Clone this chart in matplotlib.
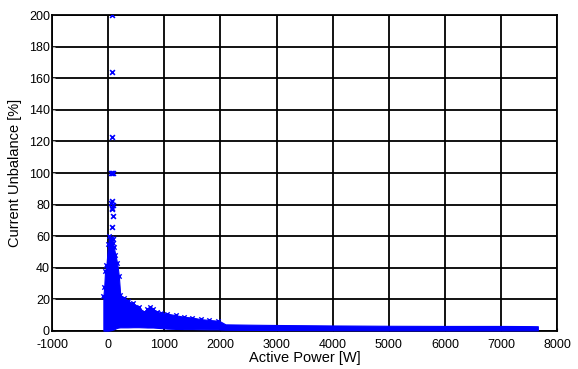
import numpy as np
import matplotlib
matplotlib.use("Agg")
import matplotlib.pyplot as plt

plt.rcParams['font.family'] = ['Liberation Sans', 'DejaVu Sans']
plt.rcParams['axes.unicode_minus'] = False

power = [-85, -70, -55, -30, 0, 20, 50, 80, 100, 130, 160, 190, 215, 275,
         350, 450, 550, 630, 700, 750, 800, 870, 950, 1050, 1200, 1350,
         1500, 1650, 1800, 1950, 2000, 2090, 2500, 3000, 4000, 5000,
         6000, 7000, 7500, 7655]
upper = [22, 28, 38, 42, 55, 60, 58, 56, 53, 48, 43, 35, 23, 21,
         19, 17.5, 15, 12, 14, 15, 14, 12, 11.5, 11, 10, 9,
         8.5, 7.5, 7, 6.5, 6, 4.2, 4, 3.8, 3.5, 3.3,
         3.2, 3.2, 3.1, 3.0]
lower = [0.3, 0.2, 0.2, 0.2, 0.2, 0.3, 0.5, 0.8, 1.0, 1.5, 2.0, 2.2, 2.3, 2.3,
         2.3, 2.4, 2.4, 2.3, 2.2, 2.2, 2.2, 2.0, 1.8, 1.5, 1.3, 1.2,
         1.2, 1.1, 1.0, 1.0, 0.9, 0.8, 0.7, 0.6, 0.5, 0.4,
         0.4, 0.4, 0.4, 0.4]

# isolated points above the cloud
out_p = [65, 62, 60, 55, 75, 90, 55, 70, 85, 60, 75, 80, 65, 50, 80]
out_u = [200, 164, 123, 100, 100, 100, 81, 82, 80, 78, 77, 73, 66, 59, 58]

xticks = list(range(-1000, 8001, 1000))
yticks = list(range(0, 201, 20))

fig = plt.figure(figsize=(5.78, 3.69), dpi=100)
ax = fig.add_axes([0.090, 0.103, 0.874, 0.856])

ax.fill_between(power, lower, upper, color="#0000ff", linewidth=0.8,
                edgecolor="#0000ff", zorder=3)
edge_p = [p for p in power if p < 2000]
edge_u = upper[:len(edge_p)]
ax.scatter(edge_p, edge_u, marker="x", s=10, color="#0000ff", linewidths=1, zorder=3)
ax.scatter(out_p, out_u, marker="x", s=12, color="#0000ff", linewidths=1.2, zorder=3)

ax.set_xlim(-1000, 8000)
ax.set_ylim(0, 200)
ax.set_xticks(xticks)
ax.set_yticks(yticks)
ax.grid(True, color="black", linewidth=1.3, linestyle="-")
ax.set_axisbelow(True)
ax.tick_params(direction="in", length=2, labelsize=9, colors="black", pad=1.5)
ax.tick_params(axis="x", pad=5.5)
ax.tick_params(axis="y", colors="#aaaaaa", labelcolor="black")
for sp in ax.spines.values():
    sp.set_linewidth(1.3)
    sp.set_color("black")

ax.set_xlabel("Active Power [W]", fontsize=10.5, labelpad=0.5)
ax.set_ylabel("Current Unbalance [%]", fontsize=10.5, labelpad=5)

fig.savefig("out.png", dpi=100)
